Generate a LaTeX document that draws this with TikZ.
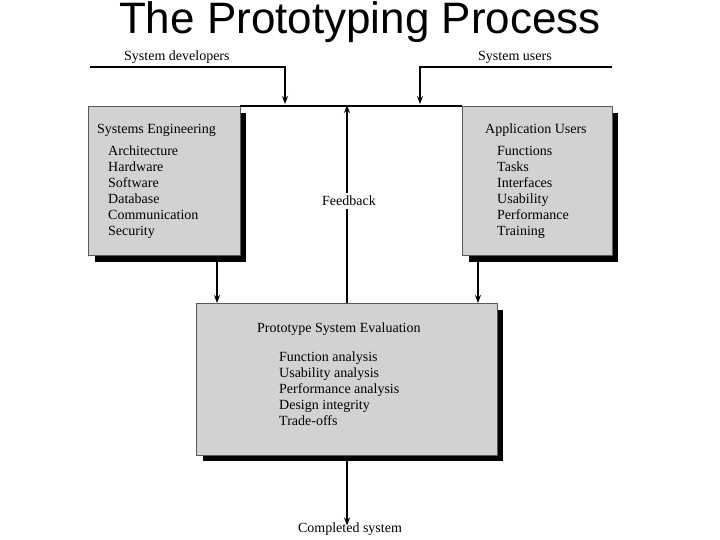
\documentclass[tikz,border=0pt]{standalone}
\usepackage{fontspec}
\setmainfont{Liberation Serif}
\newfontfamily\titlefont{Liberation Sans}
\usetikzlibrary{arrows.meta}
\begin{document}
\begin{tikzpicture}
  [x=1pt,y=-1pt,
   >={Stealth[length=8pt,width=6pt]},
   flow/.style={line width=1.6pt},
   shadowbox/.style={fill=black},
   panelbox/.style={draw=gray!70!black,fill=gray!35},
   label/.style={inner sep=0pt,anchor=west,font=\fontsize{14}{16}\selectfont},
   listing/.style={label,align=left,font=\fontsize{14}{16}\selectfont}]
  \useasboundingbox (0,0) rectangle (720,540);
  \node[font=\titlefont\fontsize{44}{48}\selectfont] (title) at (360,22) {The Prototyping Process};
  % boxes
  \fill[shadowbox] (95,113) rectangle (246,262);
  \draw[panelbox] (88,106) rectangle (240,255);
  \fill[shadowbox] (469,113) rectangle (618,262);
  \draw[panelbox] (462,106) rectangle (612,255);
  \fill[shadowbox] (203,310) rectangle (503,461);
  \draw[panelbox] (196,303) rectangle (497,455);
  \coordinate (sl) at (240,106);
  \coordinate (sr) at (462,106);
  \draw[flow] (sl) -- (sr);
  % texts
  \node[label] (se) at (97,130) {Systems Engineering};
  \node[listing,anchor=north west] (sel) at (108,146) {Architecture\\Hardware\\Software\\Database\\Communication\\Security};
  \node[label] (au) at (485,130) {Application Users};
  \node[listing,anchor=north west] (aul) at (497,146) {Functions\\Tasks\\Interfaces\\Usability\\Performance\\Training};
  \node[label] (pe) at (257,329) {Prototype System Evaluation};
  \node[listing,anchor=north west] (pel) at (279,352) {Function analysis\\Usability analysis\\Performance analysis\\Design integrity\\Trade-offs};
  % inputs
  \node[label] (dev) at (124,57) {System developers};
  \node[label] (usr) at (478,57) {System users};
  \coordinate (d0) at (90,67);
  \coordinate (d1) at (285,67);
  \coordinate (d2) at (285,104);
  \coordinate (u0) at (612,67);
  \coordinate (u1) at (420,67);
  \coordinate (u2) at (420,104);
  \draw[flow,->] (d0) -- (d1) -- (d2);
  \draw[flow,->] (u0) -- (u1) -- (u2);
  % flows
  \node[label,anchor=center,fill=white,inner sep=3pt] (fb) at (349,201) {Feedback};
  \coordinate (fbb) at (347,303);
  \coordinate (fbt) at (347,107);
  \draw[flow] (fbb) -- (fb.south -| fbb);
  \draw[flow,->] (fb.north -| fbb) -- ([yshift=2]fbt);
  \coordinate (la) at (217,262);
  \coordinate (lb) at (217,303);
  \coordinate (ra) at (478,262);
  \coordinate (rb) at (478,303);
  \draw[flow,->] (la) -- (lb);
  \draw[flow,->] (ra) -- (rb);
  \node[label,anchor=center] (done) at (350,529) {Completed system};
  \coordinate (ob) at (347,461);
  \draw[flow,->] (ob) -- ([yshift=-3]done.north -| ob);
\end{tikzpicture}
\end{document}
